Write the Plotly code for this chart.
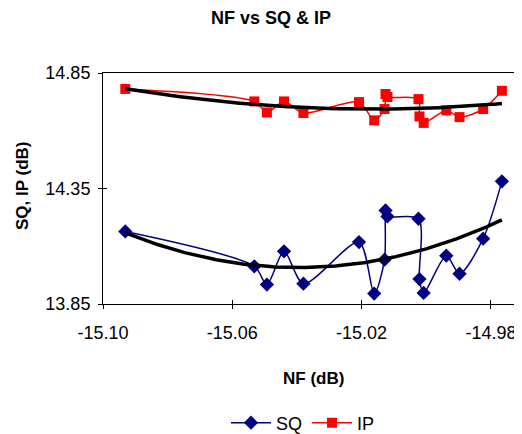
import numpy as np
import plotly.graph_objects as go

nf = [-15.0931, -15.0532, -15.0493, -15.0440, -15.0380, -15.0208, -15.0161,
      -15.0129, -15.0126, -15.0120, -15.0024, -15.0021, -15.0008, -14.9938,
      -14.9897, -14.9824, -14.9766]
sq = [14.164, 14.013, 13.934, 14.078, 13.938, 14.118, 13.895,
      14.042, 14.255, 14.229, 14.219, 13.958, 13.898, 14.059,
      13.981, 14.133, 14.381]
ip = [14.781, 14.727, 14.679, 14.727, 14.677, 14.724, 14.645,
      14.694, 14.759, 14.746, 14.737, 14.662, 14.634, 14.688,
      14.659, 14.694, 14.773]
x_ticks = [-15.10, -15.06, -15.02, -14.98]
x_tick_labels = ["-15.10", "-15.06", "-15.02", "-14.98"]
y_ticks = [13.85, 14.35, 14.85]
y_tick_labels = ["13.85", "14.35", "14.85"]

FONT = "Liberation Sans, Arial, sans-serif"
OFF = 8  # page body margin
W, H = 522 - OFF, 434 - OFF
ML, MR, MT = 103 - OFF, 0, 73 - OFF
MB = H - (304 - OFF)
X_RANGE = [-15.10, -15.10 + (W - ML) / 3232.5]
Y_RANGE = [13.85, 14.85]

# polynomial trendlines (2nd order), as in the spreadsheet chart
xs = np.linspace(min(nf), max(nf), 200)
sq_fit = np.polyval(np.polyfit(nf, sq, 2), xs)
ip_fit = np.polyval(np.polyfit(nf, ip, 2), xs)

fig = go.Figure()
fig.add_trace(go.Scatter(
    x=nf, y=sq, name="SQ", mode="lines+markers",
    line=dict(color="#000080", width=1.5, shape="spline", smoothing=0.8),
    marker=dict(symbol="diamond", size=11, color="#000080"),
))
fig.add_trace(go.Scatter(
    x=nf, y=ip, name="IP", mode="lines+markers",
    line=dict(color="#FF0000", width=1.5, shape="spline", smoothing=0.8),
    marker=dict(symbol="square", size=10, color="#FF0000"),
))
fig.add_trace(go.Scatter(x=xs, y=sq_fit, mode="lines", showlegend=False,
                         line=dict(color="black", width=3.5), hoverinfo="skip"))
fig.add_trace(go.Scatter(x=xs, y=ip_fit, mode="lines", showlegend=False,
                         line=dict(color="black", width=3.5), hoverinfo="skip"))
# empty trace on overlay axes used for the inner half of the cross tick marks
fig.add_trace(go.Scatter(x=[None], y=[None], xaxis="x2", yaxis="y2",
                         showlegend=False, hoverinfo="skip"))


def px(xp, yp):
    xp, yp = xp - OFF, yp - OFF
    return (xp - ML) / (W - ML - MR), (H - MB - yp) / (H - MT - MB)


t_x, t_y = px(271, 18)
xt_x, xt_y = px(313, 378)
yt_x, yt_y = px(22, 186)

ann_common = dict(xref="paper", yref="paper", showarrow=False,
                  xanchor="center", yanchor="middle")
fig.update_layout(
    width=W, height=H,
    margin=dict(l=ML, r=MR, t=MT, b=MB, autoexpand=False),
    paper_bgcolor="white", plot_bgcolor="white",
    font=dict(family=FONT, size=18, color="black"),
    showlegend=True,
    legend=dict(orientation="h", x=(303 - OFF) / W, xref="container", xanchor="center",
                y=1 - (423 - OFF) / H, yref="container", yanchor="middle",
                font=dict(size=18), itemwidth=40, traceorder="normal",
                bgcolor="rgba(0,0,0,0)"),
    annotations=[
        dict(text="<b>NF vs SQ & IP</b>", x=t_x, y=t_y, font=dict(size=18), **ann_common),
        dict(text="<b>NF (dB)</b>", x=xt_x, y=xt_y, font=dict(size=17), **ann_common),
        dict(text="<b>SQ, IP (dB)</b>", x=yt_x, y=yt_y, textangle=-90,
             font=dict(size=17), **ann_common),
    ],
    xaxis=dict(
        range=X_RANGE, tickvals=x_ticks, ticktext=x_tick_labels,
        showline=True, linecolor="black", linewidth=1, mirror=True,
        ticks="outside", ticklen=4, tickcolor="black", ticklabelstandoff=8,
        showgrid=False, zeroline=False, automargin=False,
    ),
    yaxis=dict(
        range=Y_RANGE, tickvals=y_ticks, ticktext=y_tick_labels,
        showline=True, linecolor="black", linewidth=1, mirror=False,
        ticks="outside", ticklen=4, tickcolor="black", ticklabelstandoff=4,
        showgrid=False, zeroline=False, automargin=False,
    ),
    xaxis2=dict(
        overlaying="x", range=X_RANGE, tickvals=x_ticks, side="bottom",
        showticklabels=False, ticks="inside", ticklen=4, tickcolor="black",
        showgrid=False, zeroline=False, showline=False, automargin=False,
    ),
    yaxis2=dict(
        overlaying="y", range=Y_RANGE, tickvals=y_ticks, side="left",
        showticklabels=False, ticks="inside", ticklen=4, tickcolor="black",
        showgrid=False, zeroline=False, showline=False, automargin=False,
    ),
)
fig.write_html("out.html")
